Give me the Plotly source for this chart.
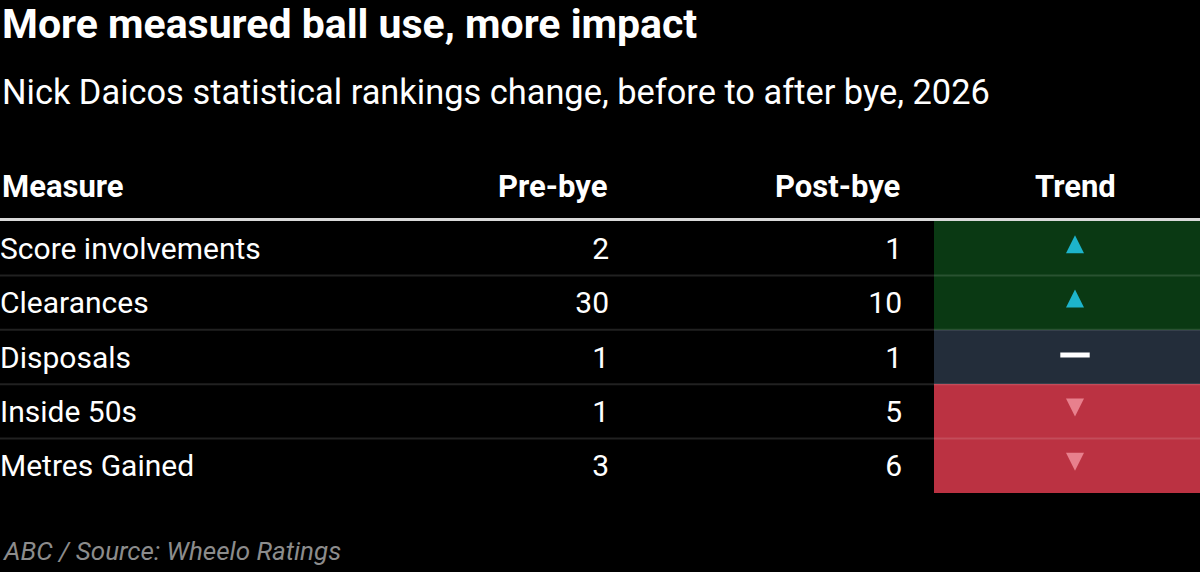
import plotly.graph_objects as go

measures = ["Score involvements", "Clearances", "Disposals", "Inside 50s", "Metres Gained"]
pre_bye = [2, 30, 1, 1, 3]
post_bye = [1, 10, 1, 5, 6]
headers = ["Measure", "Pre-bye", "Post-bye", "Trend"]

title = "More measured ball use, more impact"
subtitle = "Nick Daicos statistical rankings change, before to after bye, 2026"
source = "ABC / Source: Wheelo Ratings"

# ranking: lower is better, so a drop in number is an improvement
trend = []
for a, b in zip(pre_bye, post_bye):
    if b < a:
        trend.append("up")
    elif b > a:
        trend.append("down")
    else:
        trend.append("flat")

W, H = 1200, 572
TOP_PX = 221      # top of first row
ROW_PX = 54.4     # row height
TXT_DY = 3 / ROW_PX   # body text sits a little low in the row
FONT = "Roboto"

cell_col = {"up": "#0a3913", "flat": "#232d3a", "down": "#bb3242"}
X_MEASURE, X_PRE, X_POST, X_TREND = 0, 609, 902, 1075
TREND_L, TREND_R = 934, 1200

rows = list(range(len(measures)))
y_top = -0.5 - TOP_PX / ROW_PX
y_bot = y_top + H / ROW_PX
ty = [i + TXT_DY for i in rows]

fig = go.Figure()

# trend cells
fig.add_trace(go.Bar(
    y=rows, x=[TREND_R - TREND_L] * len(rows), base=TREND_L,
    orientation="h", width=1,
    marker=dict(color=[cell_col[t] for t in trend], line=dict(width=0)),
    hoverinfo="skip"
))

body = dict(family=FONT, size=30, color="white")
fig.add_trace(go.Scatter(x=[X_MEASURE] * len(rows), y=ty, text=measures, mode="text",
                         textposition="middle right", textfont=body, hoverinfo="skip"))
fig.add_trace(go.Scatter(x=[X_PRE] * len(rows), y=ty, text=[str(v) for v in pre_bye], mode="text",
                         textposition="middle left", textfont=body, hoverinfo="skip"))
fig.add_trace(go.Scatter(x=[X_POST] * len(rows), y=ty, text=[str(v) for v in post_bye], mode="text",
                         textposition="middle left", textfont=body, hoverinfo="skip"))

# trend symbols
up = [i for i, t in enumerate(trend) if t == "up"]
down = [i for i, t in enumerate(trend) if t == "down"]
flat = [i for i, t in enumerate(trend) if t == "flat"]
fig.add_trace(go.Scatter(x=[X_TREND] * len(up), y=[i - 13 / ROW_PX for i in up], mode="markers",
                         marker=dict(symbol="arrow-up", size=18, color="#1db4cb", line=dict(width=0)),
                         hoverinfo="skip"))
fig.add_trace(go.Scatter(x=[X_TREND] * len(down), y=[i + 5 / ROW_PX for i in down], mode="markers",
                         marker=dict(symbol="arrow-down", size=18, color="#e8808d", line=dict(width=0)),
                         hoverinfo="skip"))
fig.add_trace(go.Scatter(x=[X_TREND] * len(flat), y=[i - 2 / ROW_PX for i in flat], mode="markers",
                         marker=dict(symbol="line-ew", size=21, line=dict(width=5, color="white")),
                         hoverinfo="skip"))

# row separators
for i in rows[:-1]:
    fig.add_shape(type="line", xref="x", yref="y", x0=0, x1=W, y0=i + 0.5, y1=i + 0.5,
                  line=dict(color="rgba(255,255,255,0.13)", width=2), layer="above")

# header rule
fig.add_shape(type="line", xref="x", yref="paper", x0=0, x1=W,
              y0=1 - 219.5 / H, y1=1 - 219.5 / H, line=dict(color="#d9d9d9", width=3))

def py(px):
    return 1 - px / H

ann = [
    dict(text="<b>" + title + "</b>", x=0, y=py(24), xanchor="left",
         font=dict(family=FONT, size=41, color="white")),
    dict(text=subtitle, x=0, y=py(92), xanchor="left",
         font=dict(family=FONT, size=34.4, color="white")),
    dict(text="<i>" + source + "</i>", x=0, y=py(551), xanchor="left",
         font=dict(family=FONT, size=26, color="#8c8c8c")),
]
hx = [(X_MEASURE / W, "left"), (X_PRE / W, "right"), (X_POST / W, "right"), (X_TREND / W, "center")]
for h, (x, anc) in zip(headers, hx):
    ann.append(dict(text="<b>" + h + "</b>", x=x, y=py(187), xanchor=anc,
                    font=dict(family=FONT, size=31, color="white")))
for a in ann:
    a.update(xref="paper", yref="paper", yanchor="middle", showarrow=False)

fig.update_layout(
    width=W, height=H,
    margin=dict(l=0, r=0, t=0, b=0),
    paper_bgcolor="black", plot_bgcolor="black",
    showlegend=False,
    annotations=ann,
    xaxis=dict(range=[0, W], visible=False, fixedrange=True),
    yaxis=dict(range=[y_bot, y_top], visible=False, fixedrange=True),
    bargap=0,
)

fig.write_html("out.html", config={"displayModeBar": False},
               post_script="document.body.style.margin='0';document.body.style.background='black';")
